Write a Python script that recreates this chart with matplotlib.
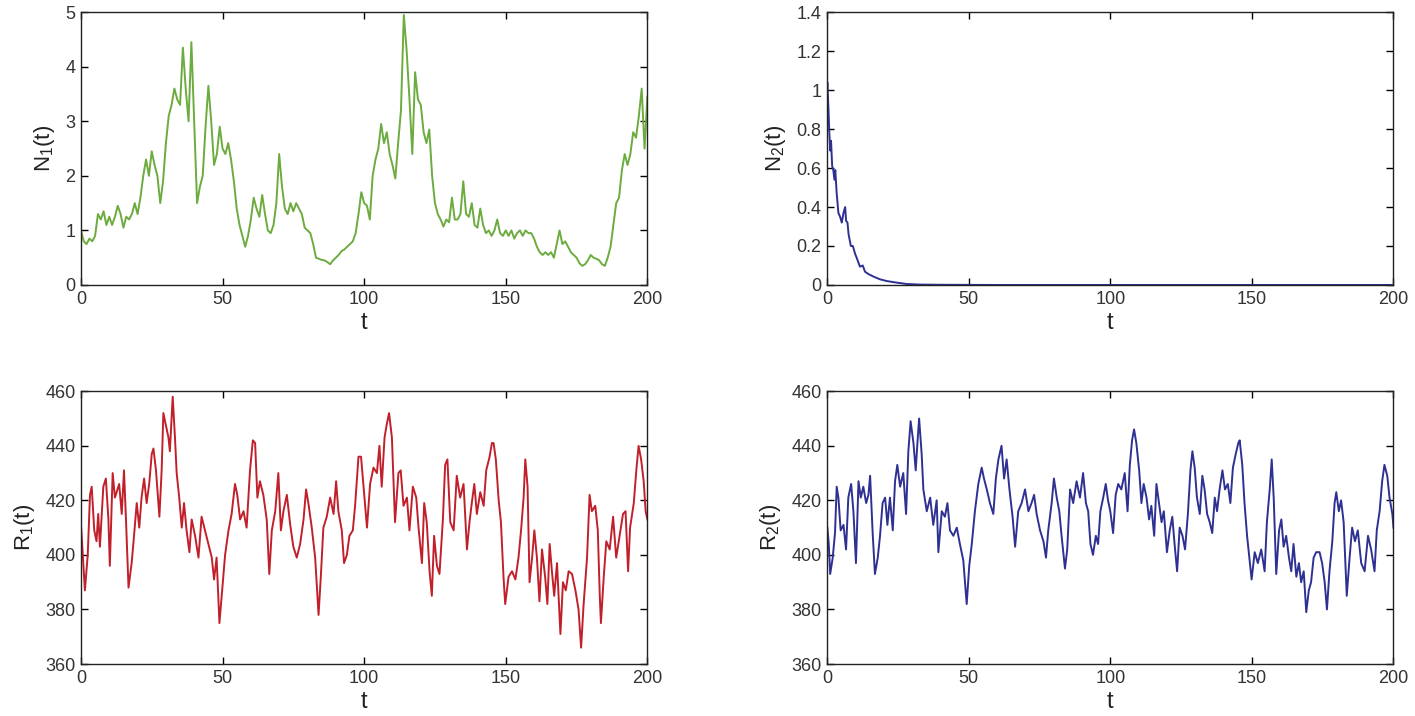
import numpy as np
import matplotlib.pyplot as plt

plt.rcParams['font.family'] = ['Liberation Sans', 'DejaVu Sans']
plt.rcParams['mathtext.default'] = 'regular'

# N1(t), one value per time unit (t = 0..200)
n1 = [1.0, 0.8, 0.75, 0.85, 0.8, 0.9, 1.3, 1.2, 1.35, 1.1,
      1.25, 1.1, 1.25, 1.45, 1.3, 1.05, 1.25, 1.2, 1.3, 1.5,
      1.3, 1.6, 2.0, 2.3, 2.0, 2.45, 2.2, 2.0, 1.5, 1.9,
      2.6, 3.1, 3.3, 3.6, 3.4, 3.3, 4.35, 3.6, 3.0, 4.45,
      3.0, 1.5, 1.8, 2.0, 2.9, 3.65, 3.0, 2.2, 2.4, 2.9,
      2.5, 2.4, 2.6, 2.3, 1.9, 1.4, 1.1, 0.9, 0.7, 0.9,
      1.2, 1.6, 1.4, 1.25, 1.65, 1.3, 1.0, 0.95, 1.1, 1.5,
      2.4, 1.8, 1.4, 1.3, 1.5, 1.35, 1.5, 1.4, 1.3, 1.05,
      1.0, 0.95, 0.75, 0.5, 0.48, 0.46, 0.45, 0.42, 0.38, 0.45,
      0.5, 0.55, 0.62, 0.65, 0.7, 0.75, 0.8, 0.95, 1.3, 1.7,
      1.5, 1.45, 1.2, 2.0, 2.3, 2.5, 2.95, 2.6, 2.8, 2.4,
      2.2, 1.95, 2.6, 3.2, 4.95, 4.3, 3.4, 2.4, 3.9, 3.4,
      3.3, 2.8, 2.6, 2.85, 2.0, 1.5, 1.3, 1.2, 1.07, 1.2,
      1.15, 1.6, 1.2, 1.2, 1.3, 1.9, 1.3, 1.25, 1.5, 1.1,
      1.05, 1.4, 1.1, 0.95, 1.0, 0.9, 1.0, 1.2, 0.95, 0.9,
      1.0, 0.9, 1.0, 0.85, 0.95, 1.0, 0.9, 1.0, 0.95, 0.95,
      0.85, 0.7, 0.6, 0.55, 0.6, 0.55, 0.6, 0.5, 0.75, 1.0,
      0.75, 0.8, 0.7, 0.6, 0.55, 0.5, 0.4, 0.35, 0.38, 0.45,
      0.55, 0.5, 0.48, 0.45, 0.38, 0.35, 0.5, 0.7, 1.1, 1.5,
      1.6, 2.1, 2.4, 2.2, 2.4, 2.8, 2.7, 3.1, 3.6, 2.5,
      3.45]
t_n1 = np.arange(len(n1))

# N2(t)
t_n2 = [0, 0.1, 0.5, 0.8, 1.1, 1.4, 1.8, 2.2, 2.6, 2.9, 3.4, 4.0, 4.6, 5.2,
        5.8, 6.4, 6.7, 7.2, 7.6, 8.4, 9.1, 9.9, 10.7, 11.6, 12.6, 13.4,
        14.6, 16.4, 18.7, 21.1, 24.6, 28.1, 32.8, 40, 60, 100, 150, 200]
n2 = [1.0, 1.04, 0.9, 0.78, 0.69, 0.74, 0.61, 0.59, 0.54, 0.59, 0.47, 0.37,
      0.35, 0.32, 0.37, 0.40, 0.33, 0.32, 0.26, 0.2, 0.2, 0.16, 0.13, 0.094,
      0.10, 0.068, 0.056, 0.043, 0.029, 0.02, 0.012, 0.005, 0.002, 0.001,
      0, 0, 0, 0]

# R1(t)
t_r1 = [0.0, 0.2, 1.4, 2.4, 3.2, 3.8, 4.7, 5.5, 6.1, 6.7, 7.9, 8.8, 9.7,
        10.2, 11.2, 12.0, 12.6, 13.5, 14.4, 15.2, 15.9, 16.8, 17.9, 18.5,
        19.7, 20.6, 21.4, 22.3, 23.2, 24.1, 25.0, 25.6, 26.5, 27.7, 28.5,
        29.1, 29.9, 30.9, 31.4, 32.0, 32.4, 33.2, 33.8, 34.7, 35.6, 36.4,
        37.3, 38.3, 39.1, 40.3, 41.5, 42.6, 43.8, 45.0, 46.2, 47.0, 47.9,
        48.9, 49.7, 50.9, 52.1, 53.2, 54.4, 55.2, 56.2, 57.4, 58.5, 59.7,
        60.7, 61.5, 62.3, 63.2, 64.4, 65.6, 66.5, 67.4, 68.6, 69.7, 70.6,
        71.5, 72.7, 73.9, 75.0, 76.2, 77.4, 78.6, 79.5, 80.3, 81.5, 82.7,
        83.9, 84.7, 85.6, 86.8, 88.0, 89.2, 90.1, 90.9, 92.1, 92.9, 93.9,
        94.8, 96.0, 96.8, 98.0, 98.9,
        99.8, 101.0, 102.1, 103.3, 104.5, 105.4, 106.2, 107.2, 108.0, 108.8,
        109.8, 110.9, 112.1, 112.9, 113.9, 115.1, 116.0, 117.2, 118.4, 119.2,
        120.4, 121.2, 122.1, 123.1, 123.9, 124.7, 125.7, 126.6, 127.8, 128.6,
        129.4, 130.4, 131.6, 132.7, 133.9, 135.1, 136.3, 137.2, 138.0, 138.9,
        139.8, 141.0, 142.2, 143.1, 144.3, 145.1, 145.7, 146.5, 147.5, 148.3,
        149.2, 149.8, 151.0, 152.2, 153.4, 154.5, 155.4, 156.3, 156.9, 157.7,
        158.4, 159.3, 160.1, 161.0, 161.9, 162.8, 163.9, 164.7, 165.5, 166.3,
        167.1, 168.1, 169.3, 170.2, 171.2, 172.2, 173.4, 174.6, 175.7, 176.6,
        177.5, 178.7, 179.6, 180.4, 181.6, 182.5, 183.2, 183.6, 184.6, 185.5,
        186.7, 187.9, 189.0, 190.2, 191.4, 192.3, 193.2, 193.9, 195.2, 196.1,
        196.9, 197.8, 198.7, 199.4, 200.0]
r1 = [411, 408, 387, 400, 422, 425, 409, 405, 415, 403, 425, 428, 413,
      396, 430, 421, 423, 426, 415, 431, 413, 388, 397, 404,
      419, 410, 421, 428, 419, 426, 437, 439, 431, 414, 431,
      452, 448, 443, 438, 450, 458, 443, 430, 421, 410, 419,
      409, 401, 413, 407, 399, 414, 409, 404, 399, 391, 399,
      375, 385, 400, 409, 415, 426, 422, 413, 416, 410, 431,
      442, 441, 421, 427, 422, 413, 393, 409, 416, 430, 409,
      416, 422, 411, 403, 399, 404, 413, 424, 419, 410, 399,
      378, 392, 410, 414, 421, 415, 427, 416, 409, 397, 400,
      407, 409, 418, 436, 436,
      425, 410, 426, 432, 430, 440, 425, 443, 448, 452,
      443, 412, 430, 431, 418, 421, 409, 425, 421, 410,
      397, 419, 412, 394, 385, 407, 396, 393, 413, 433,
      435, 412, 409, 429, 421, 426, 402, 412, 419, 426,
      415, 423, 418, 431, 436, 441, 441, 435, 420, 412,
      392, 382, 392, 394, 391, 399, 409, 421, 435, 425,
      390, 399, 409, 399, 383, 402, 392, 382, 404, 394,
      385, 397, 371, 390, 387, 394, 393, 387, 380, 366,
      382, 399, 422, 416, 418, 409, 385, 375, 392, 405,
      402, 414, 399, 407, 415, 416, 394, 410, 419, 431,
      440, 435, 427, 416, 413]

# R2(t)
t_r2 = [0.1, 0.6, 1.1, 2.0, 2.8, 3.4, 4.0, 4.8, 5.8, 6.7, 7.5, 8.5, 9.3,
        10.2, 11.1, 11.9, 12.8, 13.8, 14.6, 15.2, 16.1, 16.9, 17.9, 18.7,
        19.6, 20.5, 21.3, 22.2, 23.2, 24.0, 24.8, 25.8, 26.9, 27.9, 28.7,
        29.5, 30.5, 31.3, 31.9, 32.5, 33.4, 34.0, 35.2, 36.4, 37.5, 38.7,
        39.3, 40.5, 41.6, 42.5, 43.4, 44.6, 45.8, 46.9, 48.1, 49.3, 50.2,
        51.1, 52.2, 53.4, 54.6, 55.4, 56.4, 57.5, 58.7, 59.6, 60.5, 61.6,
        62.5, 63.4, 64.4, 65.5, 66.4, 67.5, 68.7, 69.9, 71.1, 72.2, 73.1,
        74.0, 75.2, 76.4, 77.3, 78.1, 79.3, 80.1, 81.1, 82.0, 82.8, 84.0,
        84.8, 85.8, 86.9, 88.1, 89.3,
        90.4, 91.4, 92.2, 93.0, 93.9, 94.9, 95.7, 96.5, 97.5, 98.4,
        99.2, 100.0, 101.0, 101.9, 102.8, 103.9, 105.1, 106.1, 106.9, 107.7,
        108.4, 109.2, 110.2, 111.0, 111.8, 112.8, 113.7, 114.5, 115.5, 116.3,
        117.2, 118.1, 118.9, 120.0, 121.0, 121.9, 122.7, 123.6, 124.5, 125.5,
        126.4, 127.4, 128.3, 129.0, 129.8, 130.6, 131.6, 132.5, 133.3, 134.2,
        135.1, 136.0, 136.9, 137.7, 138.6, 139.6, 140.5, 141.5, 142.4, 143.3,
        144.3, 145.2, 145.7, 146.6, 147.4, 148.3, 149.2, 149.9, 151.0, 152.1,
        153.3, 154.5, 155.3, 156.3, 157.0, 157.7, 158.6, 159.6, 160.4, 161.2,
        162.1, 163.1, 163.9, 164.7, 165.7, 166.6, 167.4, 168.3, 169.2, 170.1,
        170.9, 171.8, 172.7, 173.9, 174.8, 175.7, 176.5, 177.4, 178.4, 179.2,
        179.8, 180.7, 181.5, 182.4, 183.3, 183.5, 184.5, 185.4, 186.4, 187.4,
        188.6, 189.8, 191.0, 192.1, 193.3, 194.1, 195.1, 196.0, 196.8, 197.8,
        198.6, 199.6, 200.0]
r2 = [410, 404, 393, 399, 408, 425, 421, 409, 411, 402, 421, 426, 416,
      397, 427, 421, 425, 419, 422, 429, 408, 393, 399, 407,
      419, 421, 411, 421, 409, 427, 433, 425, 430, 415, 438,
      449, 441, 431, 441, 450, 437, 424, 416, 421, 411, 420,
      401, 416, 414, 419, 409, 407, 410, 404, 398, 382, 396,
      404, 416, 426, 432, 428, 424, 419, 415, 428, 435, 440,
      428, 435, 424, 414, 403, 416, 419, 424, 416, 419, 422,
      415, 409, 405, 399, 409, 419, 428, 421, 416, 407, 395,
      402, 424, 419, 427, 421,
      430, 419, 416, 404, 400, 407, 404, 416, 421, 426,
      420, 416, 408, 422, 426, 424, 430, 416, 433, 442,
      446, 441, 431, 419, 426, 421, 413, 418, 407, 426,
      419, 412, 416, 401, 409, 414, 404, 394, 410, 407,
      402, 415, 431, 438, 432, 421, 415, 429, 424, 415,
      412, 408, 421, 416, 424, 431, 424, 426, 419, 432,
      437, 441, 442, 433, 419, 407, 398, 391, 401, 397,
      402, 394, 412, 424, 435, 421, 393, 409, 413, 403,
      407, 399, 394, 404, 392, 397, 390, 394, 379, 387,
      390, 399, 401, 401, 397, 390, 380, 394, 405, 419,
      423, 416, 420, 412, 390, 385, 399, 410, 405, 409,
      397, 394, 407, 402, 394, 409, 416, 427, 433, 429,
      421, 415, 410]

green = '#6CAB3E'
red = '#C1202B'
blue = '#2E3192'

fig = plt.figure(figsize=(14.15, 7.16), dpi=100)
left_x, right_x, width = 0.0572, 0.5845, 0.4003
top_y, bottom_y, height = 0.602, 0.0726, 0.381

panels = [
    (left_x, top_y, t_n1, n1, green, 'N$_1$(t)', (0, 5), np.arange(0, 6, 1)),
    (right_x, top_y, t_n2, n2, blue, 'N$_2$(t)', (0, 1.4), np.arange(0, 1.41, 0.2)),
    (left_x, bottom_y, t_r1, r1, red, 'R$_1$(t)', (360, 460), np.arange(360, 461, 20)),
    (right_x, bottom_y, t_r2, r2, blue, 'R$_2$(t)', (360, 460), np.arange(360, 461, 20)),
]

for x0, y0, t, y, color, label, ylim, yticks in panels:
    ax = fig.add_axes([x0, y0, width, height])
    ax.plot(t, y, color=color, linewidth=1.4)
    ax.set_xlim(0, 200)
    ax.set_ylim(*ylim)
    ax.set_xticks([0, 50, 100, 150, 200])
    ax.set_yticks(yticks)
    ax.set_yticklabels(['%g' % round(v, 1) for v in yticks])
    ax.tick_params(direction='in', top=True, right=True, length=5,
                   width=1, labelsize=13, pad=4, labelcolor='#333333')
    for s in ax.spines.values():
        s.set_linewidth(1.0)
        s.set_color('#222222')
    ax.set_xlabel('t', fontsize=17, labelpad=3, color='#222222')
    ax.set_ylabel(label, fontsize=16, labelpad=6, color='#222222')

fig.savefig('out.png', dpi=100)
